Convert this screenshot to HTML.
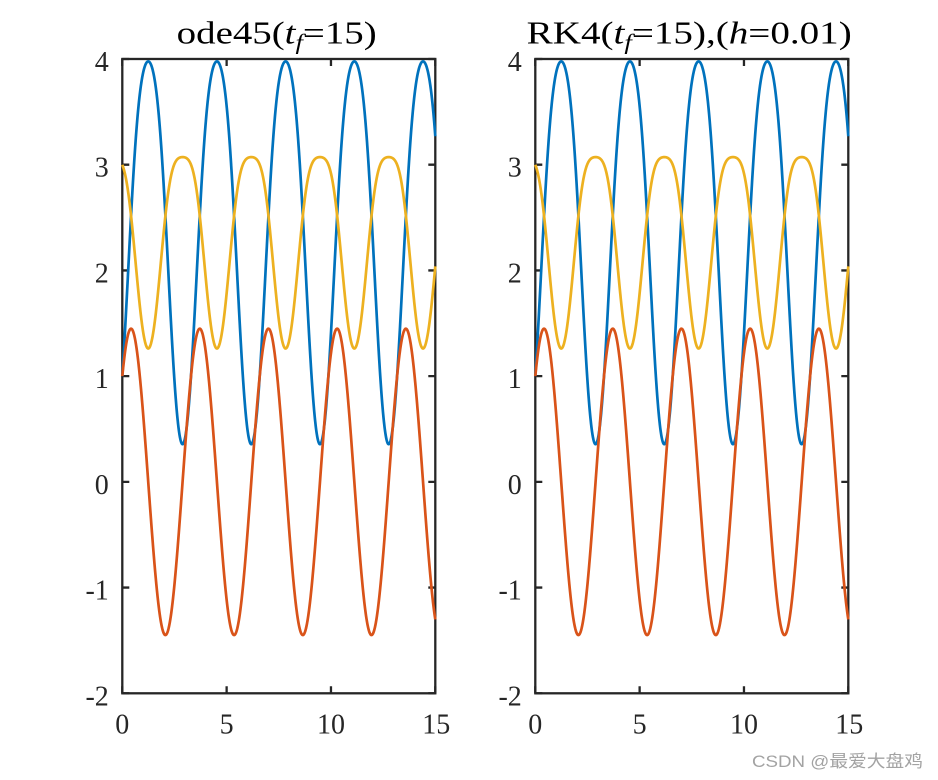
<!DOCTYPE html>
<html><head><meta charset="utf-8">
<style>
html,body{margin:0;padding:0;background:#fff;}
svg{display:block;}
</style></head>
<body>
<svg id="s" width="938" height="780" viewBox="0 0 938 780" xmlns="http://www.w3.org/2000/svg">
<rect width="938" height="780" fill="#fff"/>
<g id="axes" fill="none" stroke="#262626" stroke-width="2.3"></g>
<g id="curves" fill="none" stroke-width="2.7" stroke-linejoin="round" stroke-linecap="butt"></g>
<g id="labels" font-family="'Liberation Serif', serif" font-size="28" fill="#262626"></g>
<g font-family="'Liberation Serif', serif" fill="#000">
<text x="176.7" y="43.5" font-size="32" textLength="200" lengthAdjust="spacingAndGlyphs">ode45(<tspan font-style="italic">t</tspan><tspan font-style="italic" font-size="22" dy="6">f</tspan><tspan dy="-6">=15)</tspan></text>
<text x="526.7" y="43.5" font-size="32" textLength="325" lengthAdjust="spacingAndGlyphs">RK4(<tspan font-style="italic">t</tspan><tspan font-style="italic" font-size="22" dy="6">f</tspan><tspan dy="-6">=15),(</tspan><tspan font-style="italic">h</tspan>=0.01)</text>
</g>
<text x="752" y="767" font-size="17" fill="#a3a3a3" textLength="171" lengthAdjust="spacingAndGlyphs" font-family="'Liberation Sans','Noto Sans CJK SC',sans-serif">CSDN @最爱大盘鸡</text>
</svg>
<script>
(function(){
  var NS="http://www.w3.org/2000/svg";
  var W=313, YB=693.3, YS=105.72;
  var plots=[122.3,535.3];
  function Y(v){return YB-(v+2)*YS;}
  function el(tag,attrs,parent,txt){var e=document.createElementNS(NS,tag);for(var k in attrs)e.setAttribute(k,attrs[k]);if(txt!==undefined)e.textContent=txt;parent.appendChild(e);return e;}
  var axes=document.getElementById('axes'), labels=document.getElementById('labels'), curves=document.getElementById('curves');
  function f(y){return [y[1]*y[2], y[2]-y[0], -0.5*y[1]*y[0]];}
  var h=0.01, y=[1,1,3], pts=[[0,y[0],y[1],y[2]]];
  for(var i=1;i<=1500;i++){
    var k1=f(y);
    var y2=[y[0]+h/2*k1[0],y[1]+h/2*k1[1],y[2]+h/2*k1[2]];
    var k2=f(y2);
    var y3=[y[0]+h/2*k2[0],y[1]+h/2*k2[1],y[2]+h/2*k2[2]];
    var k3=f(y3);
    var y4=[y[0]+h*k3[0],y[1]+h*k3[1],y[2]+h*k3[2]];
    var k4=f(y4);
    y=[y[0]+h/6*(k1[0]+2*k2[0]+2*k3[0]+k4[0]),
       y[1]+h/6*(k1[1]+2*k2[1]+2*k3[1]+k4[1]),
       y[2]+h/6*(k1[2]+2*k2[2]+2*k3[2]+k4[2])];
    pts.push([i*h,y[0],y[1],y[2]]);
  }
  var colors=["#0072BD","#D95319","#EDB120"];
  plots.forEach(function(X0){
    var X1=X0+W;
    el('rect',{x:X0,y:Y(4),width:W,height:YB-Y(4)},axes);
    var d="";
    for(var v=-2;v<=4;v++){
      var yy=Y(v).toFixed(2);
      d+="M"+X0+" "+yy+"h7M"+X1+" "+yy+"h-7";
      el('text',{x:X0-13.5,y:(Y(v)+12).toFixed(2),'text-anchor':'end'},labels,String(v));
    }
    for(var t=0;t<=15;t+=5){
      var xx=(X0+W*t/15).toFixed(2);
      d+="M"+xx+" "+YB+"v-7M"+xx+" "+Y(4).toFixed(2)+"v7";
      el('text',{x:(X0+W*t/15+(t==15?1:0)).toFixed(2),y:733.5,'text-anchor':'middle'},labels,String(t));
    }
    el('path',{d:d},axes);
    for(var c=0;c<3;c++){
      var p="";
      for(var j=0;j<pts.length;j++){
        var px=X0+W*pts[j][0]/15, py=Y(pts[j][c+1]);
        p+=(j?"L":"M")+px.toFixed(2)+" "+py.toFixed(2);
      }
      el('path',{d:p,stroke:colors[c]},curves);
    }
  });
})();
</script>
</body></html>
